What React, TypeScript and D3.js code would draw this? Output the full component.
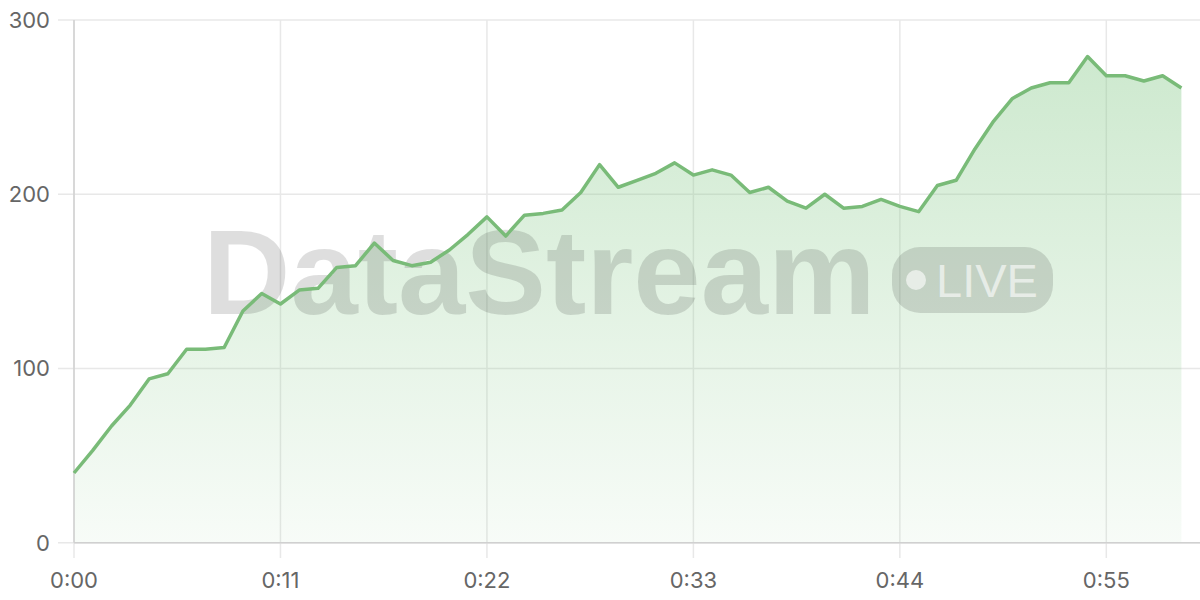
import React from "react";
import * as d3 from "d3";

const seconds: number[] = Array.from({ length: 60 }, (_, i) => i);
const values: number[] = [
  40, 53, 67, 79, 94, 97, 111, 111, 112, 133,
  143, 137, 145, 146, 158, 159, 172, 162, 159, 161,
  168, 177, 187, 176, 188, 189, 191, 201, 217, 204,
  208, 212, 218, 211, 214, 211, 201, 204, 196, 192,
  200, 192, 193, 197, 193, 190, 205, 208, 226, 242,
  255, 261, 264, 264, 279, 268, 268, 265, 268, 261,
];
const xTicks: number[] = [0, 11, 22, 33, 44, 55];
const yTicks: number[] = [0, 100, 200, 300];

const W = 1200;
const H = 600;
const left = 74;
const right = 1181.4;
const top = 20;
const bottom = 542.7;

const fmt = (s: number) => `${Math.floor(s / 60)}:${String(s % 60).padStart(2, "0")}`;

export default function App() {
  const x = d3.scaleLinear().domain([0, 59]).range([left, right]);
  const y = d3.scaleLinear().domain([0, 300]).range([bottom, top]);
  const pts = seconds.map((s, i) => [s, values[i]] as [number, number]);
  const line = d3.line<[number, number]>().x((d) => x(d[0])).y((d) => y(d[1]))(pts) || "";
  const area =
    d3
      .area<[number, number]>()
      .x((d) => x(d[0]))
      .y0(y(0))
      .y1((d) => y(d[1]))(pts) || "";
  const font = "Inter, 'DejaVu Sans', sans-serif";
  return (
    <svg
      width={W}
      height={H}
      style={{ position: "absolute", left: 0, top: 0, background: "#fff" }}
    >
      <defs>
        <linearGradient id="fillG" gradientUnits="userSpaceOnUse" x1="0" y1={top} x2="0" y2={bottom}>
          <stop offset="0%" stopColor="#81c784" stopOpacity={0.42} />
          <stop offset="100%" stopColor="#81c784" stopOpacity={0.06} />
        </linearGradient>
      </defs>
      {yTicks.map((t) => (
        <line key={"h" + t} x1={58} x2={W} y1={y(t)} y2={y(t)} stroke="#e8e8e8" strokeWidth={1.5} />
      ))}
      {xTicks.map((t) => (
        <line key={"v" + t} x1={x(t)} x2={x(t)} y1={top} y2={558} stroke="#e8e8e8" strokeWidth={1.5} />
      ))}
      <path d={area} fill="url(#fillG)" />
      <g>
        <text
          x={203}
          y={314}
          fontFamily="'Liberation Sans', Arial, sans-serif"
          fontWeight="bold"
          fontSize={121}
          fill="#000"
          fillOpacity={0.13}
        >
          DataStream
        </text>
        <rect x={892} y={247} width={161} height={66} rx={28} fill="#000" fillOpacity={0.13} />
        <circle cx={916} cy={280} r={10} fill="#fff" fillOpacity={0.6} />
        <text
          x={936}
          y={297}
          fontFamily="'Liberation Sans', Arial, sans-serif"
          fontSize={47}
          fill="#fff"
          fillOpacity={0.6}
        >
          LIVE
        </text>
      </g>
      <line x1={left} x2={left} y1={top} y2={bottom} stroke="#d0d0d0" strokeWidth={1.5} />
      <line x1={left} x2={W} y1={bottom} y2={bottom} stroke="#d0d0d0" strokeWidth={1.5} />
      <path d={line} fill="none" stroke="#79bb78" strokeWidth={3.5} strokeLinejoin="round" />
      {yTicks.map((t) => (
        <text
          key={"yl" + t}
          x={50}
          y={y(t)}
          textAnchor="end"
          dominantBaseline="central"
          fontFamily={font}
          fontSize={22}
          fill="#666"
        >
          {t}
        </text>
      ))}
      {xTicks.map((t) => (
        <text
          key={"xl" + t}
          x={x(t)}
          y={588}
          textAnchor="middle"
          fontFamily={font}
          fontSize={22}
          fill="#666"
        >
          {fmt(t)}
        </text>
      ))}
    </svg>
  );
}
